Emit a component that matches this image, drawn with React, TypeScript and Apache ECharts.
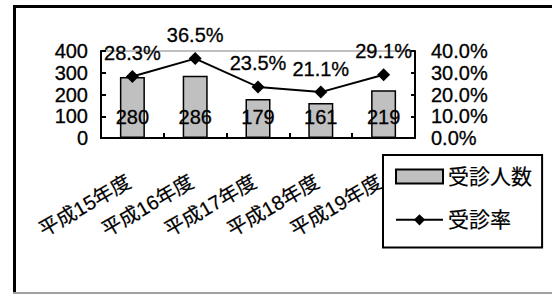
import React, { useEffect, useRef } from "react";
import * as echarts from "echarts";

const categories = ["平成15年度", "平成16年度", "平成17年度", "平成18年度", "平成19年度"];
const patients = [280, 286, 179, 161, 219];
const rates = [28.3, 36.5, 23.5, 21.1, 29.1];
const leftTicks = { min: 0, max: 400, interval: 100 };
const rightTicks = { min: 0, max: 40, interval: 10 };
const seriesNames = ["受診人数", "受診率"];

const FONT = "'Liberation Sans', 'Noto Sans CJK JP', sans-serif";
const bold = { textBorderColor: "#000", textBorderWidth: 0.3 };

export default function App() {
  const ref = useRef<HTMLDivElement>(null);
  useEffect(() => {
    if (!ref.current) return;
    const chart = echarts.init(ref.current, undefined, { renderer: "svg" });
    chart.setOption({
      animation: false,
      backgroundColor: "#ffffff",
      textStyle: { fontFamily: FONT, color: "#000" },
      grid: {
        left: 101,
        top: 51,
        right: 137,
        bottom: 156,
        show: true,
        borderColor: "#808080",
        borderWidth: 1,
        containLabel: false,
      },
      legend: {
        orient: "vertical",
        left: 383,
        top: 155,
        padding: [11, 10, 17, 12],
        borderColor: "#000",
        borderWidth: 2,
        backgroundColor: "#fff",
        itemWidth: 47,
        itemHeight: 14,
        itemGap: 22,
        textStyle: { fontSize: 21, fontFamily: FONT, color: "#000", lineHeight: 21, textBorderColor: "#000", textBorderWidth: 0.2 },
        data: [{ name: seriesNames[0], icon: "rect" }, { name: seriesNames[1] }],
      },
      xAxis: {
        type: "category",
        data: categories,
        axisLine: { show: true, lineStyle: { color: "#000", width: 2 } },
        axisTick: { show: true, inside: true, length: 5, lineStyle: { color: "#000", width: 2 } },
        axisLabel: {
          rotate: 30,
          margin: 40,
          fontSize: 20,
          color: "#000",
          fontFamily: FONT,
          interval: 0,
          padding: [0, 4, 0, 0],
          textBorderColor: "#000",
          textBorderWidth: 0.2,
        },
      },
      yAxis: [
        {
          type: "value",
          ...leftTicks,
          axisLine: { show: true, lineStyle: { color: "#000", width: 2 } },
          axisTick: { show: true, inside: true, length: 5, lineStyle: { color: "#000", width: 2 } },
          splitLine: { show: false },
          axisLabel: { fontSize: 20, color: "#000", margin: 13, fontFamily: FONT, ...bold },
        },
        {
          type: "value",
          ...rightTicks,
          position: "right",
          axisLine: { show: true, lineStyle: { color: "#000", width: 2 } },
          axisTick: { show: true, inside: true, length: 4, lineStyle: { color: "#000", width: 2 } },
          splitLine: { show: false },
          axisLabel: {
            fontSize: 20,
            color: "#000",
            margin: 16,
            fontFamily: FONT,
            ...bold,
            formatter: (v: number) => v.toFixed(1) + "%",
          },
        },
      ],
      series: [
        {
          name: seriesNames[0],
          type: "bar",
          data: patients,
          barWidth: 25,
          itemStyle: { color: "#c0c0c0", borderColor: "#000", borderWidth: 1.5 },
          label: {
            show: true,
            position: "insideBottom",
            distance: 11,
            fontSize: 20,
            color: "#000",
            fontFamily: FONT,
            ...bold,
          },
          z: 2,
        },
        {
          name: seriesNames[1],
          type: "line",
          yAxisIndex: 1,
          data: rates,
          symbol: "diamond",
          symbolSize: 13,
          lineStyle: { color: "#000", width: 2 },
          itemStyle: { color: "#000" },
          label: {
            show: true,
            position: "top",
            distance: 7,
            fontSize: 20,
            color: "#000",
            fontFamily: FONT,
            ...bold,
            formatter: (p: any) => p.value.toFixed(1) + "%",
          },
          z: 3,
        },
      ],
      graphic: [
        { type: "line", shape: { x1: 13, y1: 6.5, x2: 552, y2: 6.5 }, style: { stroke: "#000", lineWidth: 3 }, z: 10 },
        { type: "line", shape: { x1: 14.5, y1: 5, x2: 14.5, y2: 293 }, style: { stroke: "#000", lineWidth: 3 }, z: 10 },
        { type: "line", shape: { x1: 13, y1: 293, x2: 552, y2: 293 }, style: { stroke: "#a0a0a0", lineWidth: 2 }, z: 10 },
      ],
    });
    return () => chart.dispose();
  }, []);
  return (
    <div
      ref={ref}
      style={{ position: "fixed", left: 0, top: 0, width: 552, height: 294 }}
    />
  );
}
